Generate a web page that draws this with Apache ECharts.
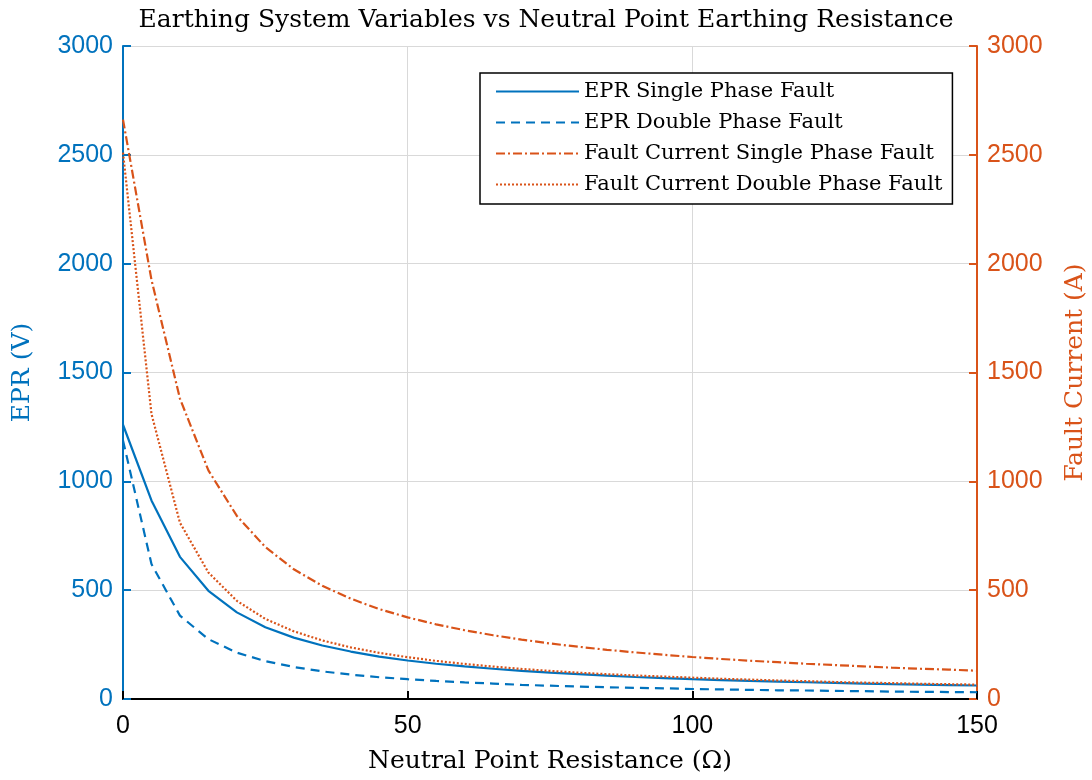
<!DOCTYPE html>
<html>
<head>
<meta charset="utf-8">
<script src="https://cdn.jsdelivr.net/npm/echarts@6/dist/echarts.min.js"></script>
<style>
html,body{margin:0;padding:0;background:#fff;}
#main{width:1092px;height:780px;}
</style>
</head>
<body>
<div id="main"></div>
<script>
//中性点电阻 (Ω)
var resistance = [0,5,10,15,20,25,30,35,40,45,50,55,60,65,70,75,80,85,90,95,100,105,110,115,120,125,130,135,140,145,150];
//EPR (V)
var eprSingle = [1260,912,653,497,398,330,282,246,218,195,177,162,150,139,129,121,114,107,101,96,91,87,83,80,77,74,71,68,66,64,62];
var eprDouble = [1188,620,383,275,213,174,147,127,112,100,91,83,76,71,65,61,57,54,51,49,46,44,42,40,39,37,36,34,33,32,31];
//故障电流 (A)
var currentSingle = [2662,1926,1380,1050,841,698,596,520,461,413,375,343,316,293,273,255,240,226,214,203,193,184,176,169,162,156,150,144,139,135,130];
var currentDouble = [2510,1310,810,581,451,368,311,269,237,212,192,175,161,149,138,129,121,114,108,103,98,93,89,85,82,78,75,73,70,68,66];
var xTicks = [0,50,100,150];
var yTicks = [0,500,1000,1500,2000,2500,3000];

var blue = '#0072BD';
var orange = '#D95319';
var serif = 'DejaVu Serif';
var sans = 'Liberation Sans';

function pairs(ys){
    var out = [];
    for(var i=0;i<resistance.length;i++){
        out.push([resistance[i],ys[i]]);
    }
    return out;
}
//不要千分位
function plain(v){ return String(v); }

function yAxisCfg(name,color,pos){
    return {
        type:'value',
        position:pos,
        name:name,
        nameLocation:'middle',
        nameGap:pos=='left'?88:86,
        nameTextStyle:{fontFamily:serif,fontSize:25,color:color},
        min:yTicks[0],
        max:yTicks[yTicks.length-1],
        interval:yTicks[1]-yTicks[0],
        axisLine:{show:true,lineStyle:{color:color,width:2}},
        axisTick:{show:true,inside:true,length:8,lineStyle:{color:color,width:2}},
        axisLabel:{color:color,fontFamily:sans,fontSize:25,margin:10,formatter:plain},
        splitLine:{show:pos=='left',lineStyle:{color:'#d9d9d9',width:1}}
    };
}

var chart = echarts.init(document.getElementById('main'));
var option = {
    backgroundColor:'#fff',
    animation:false,
    title:{
        text:'Earthing System Variables vs Neutral Point Earthing Resistance',
        left:'center',
        top:3,
        textStyle:{fontFamily:serif,fontSize:25,fontWeight:'normal',color:'#000'}
    },
    legend:{
        orient:'vertical',
        left:480,
        top:73,
        padding:[8,10,9,15],
        itemWidth:83,
        itemHeight:20,
        itemGap:10,
        backgroundColor:'#fff',
        borderColor:'#000',
        borderWidth:1.5,
        borderRadius:0,
        itemStyle:{opacity:0},
        textStyle:{fontFamily:serif,fontSize:21,color:'#000'},
        data:['EPR Single Phase Fault','EPR Double Phase Fault','Fault Current Single Phase Fault','Fault Current Double Phase Fault']
    },
    grid:{left:123,right:115,top:46,bottom:81,outerBoundsMode:'none'},
    xAxis:{
        type:'value',
        name:'Neutral Point Resistance (Ω)',
        nameLocation:'middle',
        nameGap:50,
        nameTextStyle:{fontFamily:serif,fontSize:25,color:'#000'},
        min:xTicks[0],
        max:xTicks[xTicks.length-1],
        interval:xTicks[1]-xTicks[0],
        axisLine:{show:true,lineStyle:{color:'#000',width:2}},
        axisTick:{show:true,inside:true,length:8,lineStyle:{color:'#000',width:2}},
        axisLabel:{color:'#000',fontFamily:sans,fontSize:25,margin:15,formatter:plain},
        splitLine:{show:true,lineStyle:{color:'#d9d9d9',width:1}}
    },
    yAxis:[
        yAxisCfg('EPR (V)',blue,'left'),
        yAxisCfg('Fault Current (A)',orange,'right')
    ],
    series:[
        {
            name:'EPR Single Phase Fault',type:'line',yAxisIndex:0,symbol:'none',
            data:pairs(eprSingle),
            lineStyle:{color:blue,width:2.2,type:'solid'},itemStyle:{color:blue}
        },
        {
            name:'EPR Double Phase Fault',type:'line',yAxisIndex:0,symbol:'none',
            data:pairs(eprDouble),
            lineStyle:{color:blue,width:2.2,type:[9,6]},itemStyle:{color:blue}
        },
        {
            name:'Fault Current Single Phase Fault',type:'line',yAxisIndex:1,symbol:'none',
            data:pairs(currentSingle),
            lineStyle:{color:orange,width:2.2,type:[9,3,2,3]},itemStyle:{color:orange}
        },
        {
            name:'Fault Current Double Phase Fault',type:'line',yAxisIndex:1,symbol:'none',
            data:pairs(currentDouble),
            lineStyle:{color:orange,width:2.2,type:[2,2]},itemStyle:{color:orange}
        }
    ]
};
chart.setOption(option);
</script>
</body>
</html>
